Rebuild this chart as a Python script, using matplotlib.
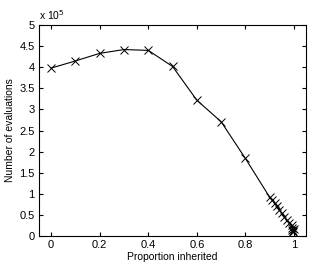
import matplotlib
matplotlib.use('Agg')
import matplotlib.pyplot as plt

plt.rcParams['font.family'] = ['Liberation Sans', 'DejaVu Sans']

# proportion inherited vs number of evaluations (x 10^5)
prop = [0.0, 0.1, 0.2, 0.3, 0.4, 0.5, 0.6, 0.7, 0.8,
        0.9, 0.91, 0.92, 0.93, 0.94, 0.95, 0.96, 0.97, 0.98,
        0.99, 0.992, 0.994, 0.996, 0.998, 1.0]
evals = [3.98, 4.15, 4.33, 4.42, 4.40, 4.02, 3.22, 2.71, 1.84,
         0.92, 0.85, 0.78, 0.70, 0.62, 0.54, 0.46, 0.38, 0.30,
         0.26, 0.20, 0.15, 0.12, 0.10, 0.16]

fig = plt.figure(figsize=(3.12, 2.64), dpi=100)
ax = fig.add_axes([0.125, 0.106, 0.856, 0.799])
ax.plot(prop, evals, color='black', lw=0.8, marker='x', ms=5.5, mew=0.7)

ax.set_xlim(-0.05, 1.05)
ax.set_ylim(0, 5)
ax.set_xticks([0, 0.2, 0.4, 0.6, 0.8, 1])
ax.set_xticklabels(['0', '0.2', '0.4', '0.6', '0.8', '1'])
yt = [0, 0.5, 1, 1.5, 2, 2.5, 3, 3.5, 4, 4.5, 5]
ax.set_yticks(yt)
ax.set_yticklabels(['%g' % v for v in yt])
ax.tick_params(direction='in', length=3, labelsize=8, top=True, right=True, pad=3)
ax.set_xlabel('Proportion inherited', fontsize=7.5, labelpad=1)
ax.set_ylabel('Number of evaluations', fontsize=7.5, labelpad=3)
ax.text(0.0, 1.015, r'x 10$^5$', transform=ax.transAxes, fontsize=7.5, va='bottom')
for s in ax.spines.values():
    s.set_linewidth(0.8)

fig.savefig('out.png', dpi=100)
